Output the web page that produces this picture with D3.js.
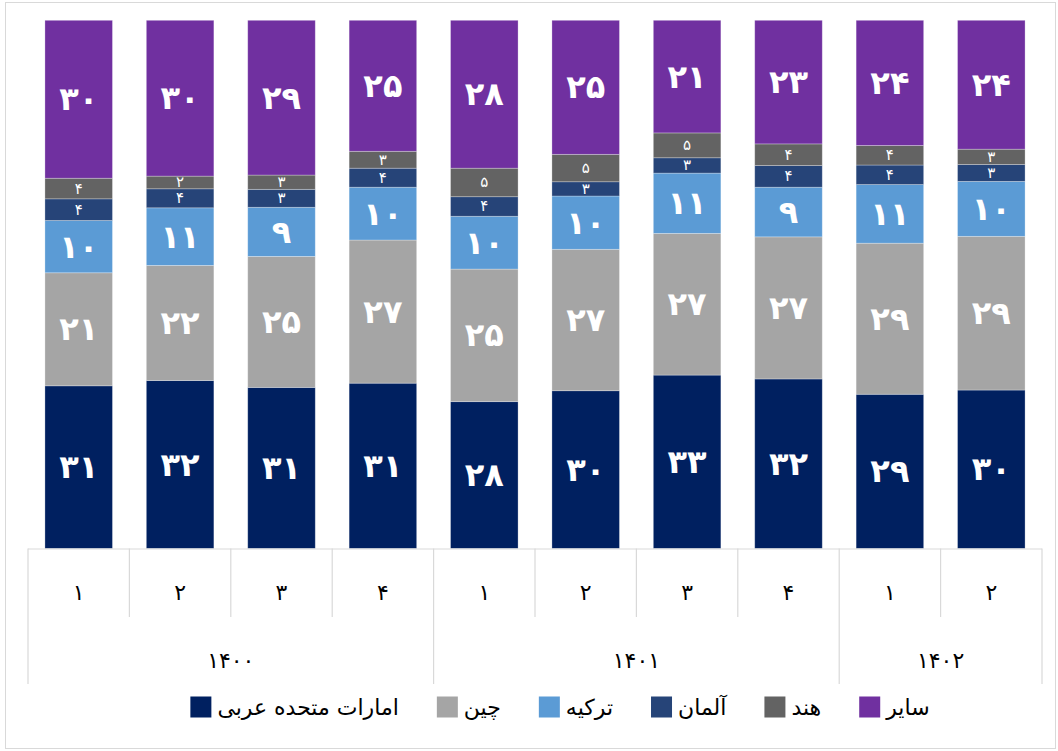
<!DOCTYPE html>
<html>
<head>
<meta charset="utf-8">
<script src="https://cdn.jsdelivr.net/npm/d3@7"></script>
<style>
  body { margin: 0; background: #fff; }
  svg { display: block; font-family: "DejaVu Sans", sans-serif; }
</style>
</head>
<body>
<svg id="chart" width="1058" height="751"></svg>
<script>
// categories: quarter + year (solar hijri)
const quarters = [1, 2, 3, 4, 1, 2, 3, 4, 1, 2];
const years = [1400, 1400, 1400, 1400, 1401, 1401, 1401, 1401, 1402, 1402];

// shares in percent
const uae     = [30.8, 31.8, 30.5, 31.3, 27.8, 29.9, 32.8, 32.1, 29.2, 30.0];
const china   = [21.4, 21.8, 24.8, 27.1, 25.1, 26.8, 26.8, 26.9, 28.6, 29.1];
const turkey  = [9.9, 10.9, 9.3, 10.0, 10.0, 10.1, 11.4, 9.4, 11.1, 10.4];
const germany = [4.1, 3.6, 3.4, 3.6, 3.7, 2.7, 2.9, 4.1, 3.7, 3.2];
const india   = [3.9, 2.4, 2.7, 3.2, 5.4, 5.2, 4.7, 4.1, 3.7, 2.9];
const other   = [29.9, 29.5, 29.3, 24.8, 28.0, 25.4, 21.3, 23.4, 23.7, 24.4];

const seriesNames = ["امارات متحده عربی", "چین", "ترکیه", "آلمان", "هند", "سایر"];
const seriesKeys = ["uae", "china", "turkey", "germany", "india", "other"];
const colors = ["#002060", "#A5A5A5", "#5B9BD5", "#264478", "#636363", "#7030A0"];
const smallLabel = { germany: true, india: true };

const faDigits = "۰۱۲۳۴۵۶۷۸۹";
const toFa = n => String(n).replace(/[0-9]/g, d => faDigits[+d]);

const rows = quarters.map((q, i) => ({
  idx: i, uae: uae[i], china: china[i], turkey: turkey[i],
  germany: germany[i], india: india[i], other: other[i]
}));

const svg = d3.select("#chart");

// outer frame
svg.append("rect")
  .attr("x", 5.5).attr("y", 2.5)
  .attr("width", 1050).attr("height", 746)
  .attr("fill", "none")
  .attr("stroke", "#d9d9d9");

const plotLeft = 28, plotRight = 1042, plotTop = 20.3, plotBottom = 548.5;

const x = d3.scaleBand()
  .domain(rows.map(d => d.idx))
  .range([plotLeft, plotRight])
  .paddingInner(0.334)
  .paddingOuter(0.167);

const y = d3.scaleLinear()
  .domain([0, 1])
  .range([plotBottom, plotTop]);

const stack = d3.stack()
  .keys(seriesKeys)
  .offset(d3.stackOffsetExpand);

const stacked = stack(rows);

const layers = svg.append("g")
  .selectAll("g")
  .data(stacked)
  .join("g")
  .attr("fill", (d, i) => colors[i]);

layers.selectAll("rect")
  .data(d => d)
  .join("rect")
  .attr("x", d => x(d.data.idx))
  .attr("y", d => y(d[1]))
  .attr("width", x.bandwidth())
  .attr("height", d => y(d[0]) - y(d[1]))
  .attr("stroke", "#ffffff")
  .attr("stroke-opacity", 0.35)
  .attr("stroke-width", 0.8);

// value labels
layers.selectAll("text")
  .data(d => d.map(v => ({ v, key: d.key })))
  .join("text")
  .attr("x", d => x(d.v.data.idx) + x.bandwidth() / 2)
  .attr("y", d => (y(d.v[0]) + y(d.v[1])) / 2)
  .attr("text-anchor", "middle")
  .attr("dominant-baseline", "central")
  .attr("fill", "#fff")
  .attr("font-weight", d => smallLabel[d.key] ? "normal" : "bold")
  .attr("font-size", d => smallLabel[d.key] ? 15 : 32)
  .text(d => toFa(Math.round(d.v.data[d.key])));

// category axis (two levels)
const axis = svg.append("g").attr("stroke", "#d9d9d9").attr("stroke-width", 1.2);
const step = x.step();
axis.append("line")
  .attr("x1", plotLeft).attr("x2", plotRight)
  .attr("y1", plotBottom + 0.5).attr("y2", plotBottom + 0.5);

const boundaries = d3.range(rows.length + 1);
axis.selectAll("line.tick")
  .data(boundaries)
  .join("line")
  .attr("class", "tick")
  .attr("x1", i => plotLeft + i * step)
  .attr("x2", i => plotLeft + i * step)
  .attr("y1", plotBottom)
  .attr("y2", i => {
    const long = i === 0 || i === rows.length || years[i] !== years[i - 1];
    return long ? 684 : 617;
  });

svg.append("g")
  .selectAll("text")
  .data(rows)
  .join("text")
  .attr("x", d => x(d.idx) + x.bandwidth() / 2)
  .attr("y", 592)
  .attr("text-anchor", "middle")
  .attr("dominant-baseline", "central")
  .attr("font-size", 22)
  .attr("fill", "#000")
  .text(d => toFa(quarters[d.idx]));

const yearGroups = d3.groups(rows, d => years[d.idx]);
svg.append("g")
  .selectAll("text")
  .data(yearGroups)
  .join("text")
  .attr("x", ([yr, list]) => (x(list[0].idx) + x(list[list.length - 1].idx) + x.bandwidth()) / 2)
  .attr("y", 660)
  .attr("text-anchor", "middle")
  .attr("dominant-baseline", "central")
  .attr("font-size", 22)
  .attr("fill", "#000")
  .text(([yr]) => toFa(yr));

// legend: right to left, marker on the left of each name
const legend = svg.append("g");
const items = seriesNames.map((name, i) => ({ name, color: colors[i] })).reverse();
const markerSize = 21, markerGap = 6, itemGap = 38;
let cursor = 0;
const placed = [];
items.forEach(it => {
  const t = legend.append("text")
    .attr("font-size", 22)
    .attr("fill", "#000")
    .attr("dominant-baseline", "central")
    .attr("text-anchor", "end")
    .text(it.name);
  const w = t.node().getComputedTextLength();
  placed.push({ t, right: cursor, color: it.color, w });
  cursor -= w + markerGap + markerSize + itemGap;
});
const totalWidth = -(cursor + itemGap);
const legendRight = 560 + totalWidth / 2;
placed.forEach(p => {
  const right = legendRight + p.right;
  p.t.attr("x", right).attr("y", 707);
  legend.append("rect")
    .attr("x", right - p.w - markerGap - markerSize)
    .attr("y", 707 - markerSize / 2)
    .attr("width", markerSize)
    .attr("height", markerSize)
    .attr("fill", p.color);
});
</script>
</body>
</html>
